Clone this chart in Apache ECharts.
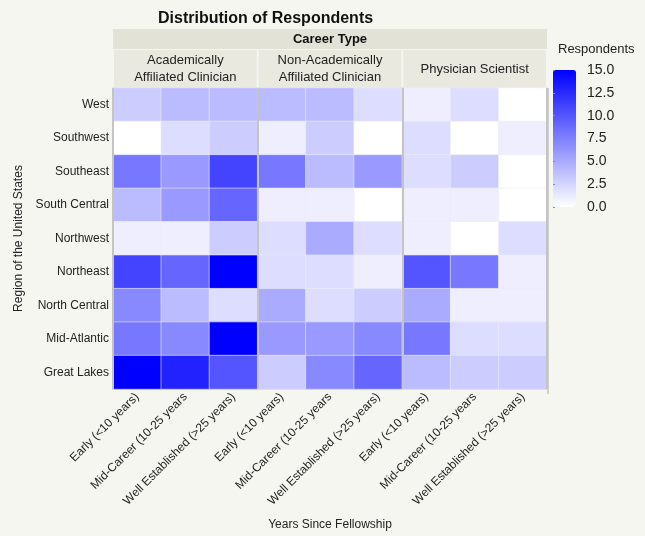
<!DOCTYPE html>
<html>
<head>
<meta charset="utf-8">
<style>
  html, body { margin: 0; padding: 0; background: #f6f6f1; }
  #chart { width: 645px; height: 536px; }
</style>
<script src="https://cdn.jsdelivr.net/npm/echarts@6/dist/echarts.min.js"></script>
</head>
<body>
<div id="chart"></div>
<script>
// 列：三种职业类型 × 三个阶段
const stages = ["Early (<10 years)", "Mid-Career (10-25 years", "Well Established (>25 years)"];
const careerTypes = ["Academically\nAffiliated Clinician", "Non-Academically\nAffiliated Clinician", "Physician Scientist"];
const regions = ["West", "Southwest", "Southeast", "South Central", "Northwest",
                 "Northeast", "North Central", "Mid-Atlantic", "Great Lakes"];

// 每个地区的人数（按列顺序）
const west         = [3, 4, 4,   4, 4, 2,   1, 2, 0];
const southwest    = [0, 2, 3,   1, 3, 0,   2, 0, 1];
const southeast    = [8, 6, 11,  8, 4, 6,   2, 3, 0];
const southCentral = [4, 6, 9,   1, 1, 0,   1, 1, 0];
const northwest    = [1, 1, 3,   2, 5, 2,   1, 0, 2];
const northeast    = [11, 9, 15, 2, 2, 1,   10, 8, 1];
const northCentral = [7, 4, 2,   5, 2, 3,   5, 1, 1];
const midAtlantic  = [8, 7, 15,  6, 6, 7,   8, 2, 2];
const greatLakes   = [15, 13, 10, 3, 7, 9,  4, 3, 3];

const rows = [west, southwest, southeast, southCentral, northwest,
              northeast, northCentral, midAtlantic, greatLakes];

const xCats = [];
careerTypes.forEach(() => stages.forEach(s => xCats.push(s)));

const heatData = [];
rows.forEach((row, yi) => {
  row.forEach((v, xi) => heatData.push([xi, yi, v]));
});

const chart = echarts.init(document.getElementById("chart"));
const fontFamily = "Liberation Sans, Arial, sans-serif";

// 表头
const plotL = 113, plotR = 547, plotT = 88, plotH = 305;
const groupW = (plotR - plotL) / 3;
const header = [
  {type: "rect", shape: {x: plotL, y: 29, width: plotR - plotL, height: 20},
   style: {fill: "#e3e2d6"}},
  {type: "text", x: (plotL + plotR) / 2, y: 39,
   style: {text: "Career Type", font: "bold 13px " + fontFamily, fill: "#111",
           align: "center", verticalAlign: "middle"}},
  // 右侧阴影
  {type: "rect", shape: {x: plotR, y: plotT, width: 2, height: plotH + 1},
   style: {fill: "#cfcfcf"}}
];
careerTypes.forEach((name, i) => {
  const x0 = plotL + i * groupW;
  header.push({type: "rect", shape: {x: x0 + 1, y: 50, width: groupW - 2, height: plotT - 50},
               style: {fill: "#eae9e0"}});
  header.push({type: "text", x: x0 + groupW / 2, y: 50 + (plotT - 50) / 2,
               style: {text: name, font: "13px " + fontFamily, fill: "#222",
                       align: "center", verticalAlign: "middle", lineHeight: 17}});
});

const option = {
  backgroundColor: "#f6f6f1",
  animation: false,
  textStyle: {fontFamily: fontFamily},
  title: [
    {text: "Distribution of Respondents", left: 153, top: 6,
     textStyle: {fontSize: 16, fontWeight: "bold", color: "#111", fontFamily: fontFamily}},
    {text: "Respondents", left: 553, top: 38,
     textStyle: {fontSize: 13, fontWeight: "normal", color: "#222", fontFamily: fontFamily}}
  ],
  grid: [
    {left: plotL, top: plotT, width: plotR - plotL, height: plotH,
     show: true, borderColor: "#b8b8b8", borderWidth: 1, backgroundColor: "#fff"},
    {left: 553, top: 70, width: 23, height: 137, show: false}
  ],
  xAxis: [
    {type: "category", gridIndex: 0, data: xCats,
     axisLine: {show: false}, axisTick: {show: false}, splitLine: {show: false},
     axisLabel: {rotate: 45, interval: 0, fontSize: 12, color: "#222", margin: 6},
     name: "Years Since Fellowship", nameLocation: "middle", nameGap: 130,
     nameTextStyle: {fontSize: 12, color: "#222"}},
    {type: "category", gridIndex: 0, position: "top", data: careerTypes, z: 10,
     axisLine: {show: false}, axisTick: {show: false}, axisLabel: {show: false},
     splitLine: {show: true, lineStyle: {color: "#c4c4c4", width: 2}}},
    {type: "value", gridIndex: 1, show: false}
  ],
  yAxis: [
    {type: "category", gridIndex: 0, data: regions, inverse: true,
     axisLine: {show: false}, axisTick: {show: false},
     axisLabel: {fontSize: 12, color: "#222", margin: 4},
     name: "Region of the United States", nameLocation: "middle", nameGap: 83,
     nameTextStyle: {fontSize: 12, color: "#222"}},
    {type: "value", gridIndex: 1, min: 0, max: 15, interval: 2.5, position: "right", z: 10,
     axisLine: {show: false},
     axisTick: {show: true, inside: false, length: 2, lineStyle: {color: "#8080ff"}},
     splitLine: {show: false},
     axisLabel: {formatter: v => v.toFixed(1), fontSize: 14, color: "#222", margin: 11}}
  ],
  visualMap: {
    type: "continuous", min: 0, max: 15, seriesIndex: 0, z: 1,
    left: 553, top: 70, itemWidth: 23, itemHeight: 137, padding: 0,
    calculable: false, hoverLink: false, text: ["", ""], showLabel: false,
    inRange: {color: ["#ffffff", "#0000ff"]}
  },
  graphic: header,
  series: [{
    type: "heatmap", xAxisIndex: 0, yAxisIndex: 0, data: heatData,
    itemStyle: {borderColor: "rgba(235,235,250,0.6)", borderWidth: 1},
    label: {show: false}, emphasis: {disabled: true}
  }]
};

chart.setOption(option);
</script>
</body>
</html>
